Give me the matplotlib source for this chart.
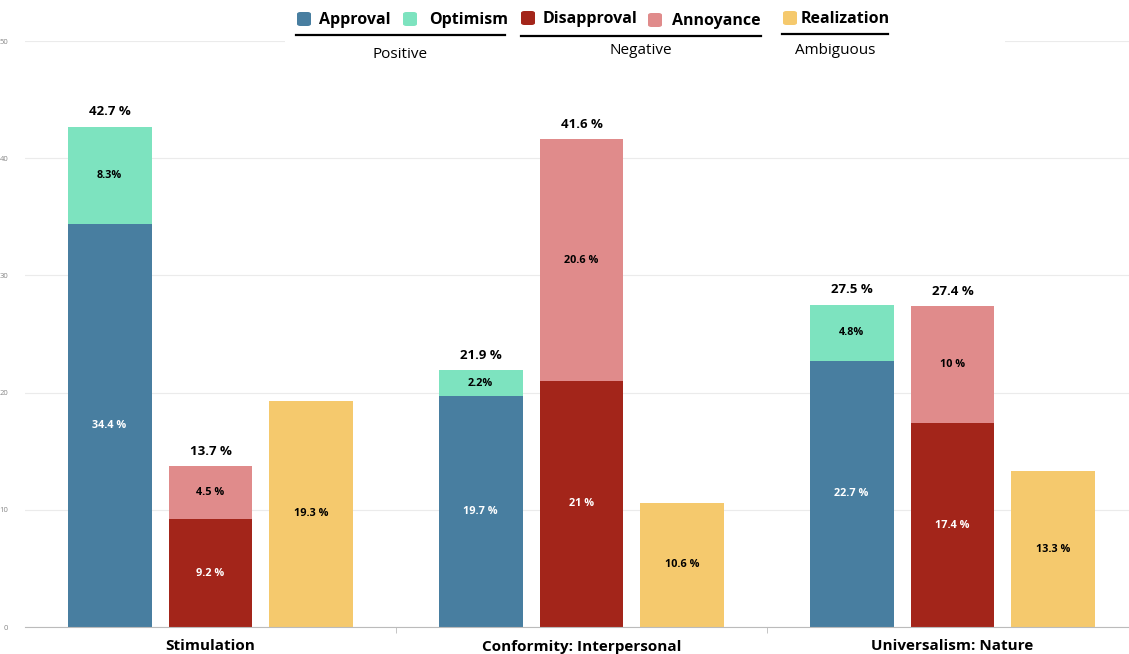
import matplotlib
matplotlib.use("Agg")
import matplotlib.pyplot as plt
from matplotlib.patches import FancyBboxPatch, Rectangle
import numpy as np

plt.rcParams['font.family'] = ['Open Sans', 'DejaVu Sans']

categories = ["Stimulation", "Conformity: Interpersonal", "Universalism: Nature"]
approval = [34.4, 19.7, 22.7]
optimism = [8.3, 2.2, 4.8]
disapproval = [9.2, 21, 17.4]
annoyance = [4.5, 20.6, 10]
realization = [19.3, 10.6, 13.3]
pos_totals = ["42.7 %", "21.9 %", "27.5 %"]
neg_totals = ["13.7 %", "41.6 %", "27.4 %"]
yticks = [0, 10, 20, 30, 40, 50]

c_appr = "#487ea0"
c_opt = "#7de3bf"
c_dis = "#a3251a"
c_ann = "#e08b8b"
c_real = "#f5c96d"

W, H = 1129, 654
fig = plt.figure(figsize=(W / 100, H / 100), dpi=100)
fig.patch.set_facecolor("white")
ax = fig.add_axes([25 / W, (H - 627) / H, (W - 25) / W, 586 / H])
ax.set_facecolor("white")

x = np.arange(len(categories))
bw = 0.226
off = 0.272

def fmt(v):
    s = ("%g" % v)
    return s + " %"

ax.bar(x - off, approval, bw, color=c_appr, zorder=2)
ax.bar(x - off, optimism, bw, bottom=approval, color=c_opt, zorder=2)
ax.bar(x, disapproval, bw, color=c_dis, zorder=2)
ax.bar(x, annoyance, bw, bottom=disapproval, color=c_ann, zorder=2)
ax.bar(x + off, realization, bw, color=c_real, zorder=2)

fs_in = 7.8
for i in range(len(categories)):
    ax.text(x[i] - off, approval[i] / 2, fmt(approval[i]), ha="center", va="center",
            color="white", fontsize=fs_in, fontweight="bold", zorder=3)
    ax.text(x[i] - off, approval[i] + optimism[i] / 2, fmt(optimism[i]).replace(" %", "%"),
            ha="center", va="center", color="black", fontsize=fs_in, fontweight="bold", zorder=3)
    ax.text(x[i], disapproval[i] / 2, fmt(disapproval[i]), ha="center", va="center",
            color="white", fontsize=fs_in, fontweight="bold", zorder=3)
    ax.text(x[i], disapproval[i] + annoyance[i] / 2, fmt(annoyance[i]), ha="center", va="center",
            color="black", fontsize=fs_in, fontweight="bold", zorder=3)
    ax.text(x[i] + off, realization[i] / 2, fmt(realization[i]), ha="center", va="center",
            color="black", fontsize=fs_in, fontweight="bold", zorder=3)
    ax.annotate(pos_totals[i], (x[i] - off, approval[i] + optimism[i]), xytext=(0, 6),
                textcoords="offset points", ha="center", va="bottom", fontsize=9.5,
                fontweight="bold", zorder=3)
    ax.annotate(neg_totals[i], (x[i], disapproval[i] + annoyance[i]), xytext=(0, 6),
                textcoords="offset points", ha="center", va="bottom", fontsize=9.5,
                fontweight="bold", zorder=3)

ax.set_ylim(0, 50)
ax.set_xlim(-0.5, 2.5 - 9 / 371)
ax.set_yticks(yticks)
ax.set_yticklabels([str(t) for t in yticks], fontsize=5.5, color="#888888")
ax.tick_params(axis="y", length=0, pad=12)
ax.grid(axis="y", color="#ebebeb", linewidth=0.8, zorder=0)
ax.set_axisbelow(True)
for s in ["top", "right", "left"]:
    ax.spines[s].set_visible(False)
ax.spines["bottom"].set_color("#bbbbbb")
ax.set_xticks(x)
ax.set_xticklabels(categories, fontsize=11, fontweight="bold")
ax.tick_params(axis="x", length=0, pad=9)
ax.set_xticks([0.5, 1.5], minor=True)
ax.tick_params(axis="x", which="minor", length=4, color="#bbbbbb")

# legend area (figure pixel coords)
def fx(px):
    return px / W

def fy(py):
    return 1 - py / H

fig.patches.append(Rectangle((fx(285), fy(70)), fx(1005) - fx(285), fy(0) - fy(70),
                             transform=fig.transFigure, facecolor="white", edgecolor="none", zorder=5))

legend_items = [
    ("Approval", c_appr, 297, 319, 20),
    ("Optimism", c_opt, 403, 429, 20),
    ("Disapproval", c_dis, 521, 543, 19),
    ("Annoyance", c_ann, 648, 672, 21),
    ("Realization", c_real, 783, 801, 19),
]
for name, col, sx, tx, cy in legend_items:
    fig.patches.append(FancyBboxPatch((fx(sx), fy(cy + 6)), fx(14), 14 / H,
                                      boxstyle="round,pad=0,rounding_size=0.003",
                                      transform=fig.transFigure, facecolor=col,
                                      edgecolor="none", zorder=6))
    fig.text(fx(tx), fy(cy), name, ha="left", va="center", fontsize=11.5,
             fontweight="bold", zorder=7)

groups = [("Positive", 296, 505, 35, 54), ("Negative", 521, 761, 36, 51),
          ("Ambiguous", 782, 888, 34, 50)]
for name, x0, x1, ly, ty in groups:
    fig.add_artist(plt.Line2D([fx(x0), fx(x1)], [fy(ly), fy(ly)], color="black",
                              linewidth=1.6, transform=fig.transFigure, zorder=7))
    fig.text(fx((x0 + x1) / 2), fy(ty), name, ha="center", va="center", fontsize=11, zorder=7)

fig.savefig("out.png", dpi=100, facecolor="white")
